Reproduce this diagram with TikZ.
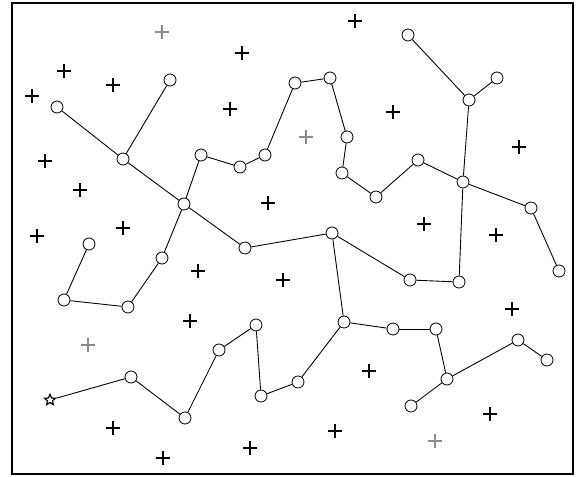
\documentclass[tikz,border=0pt]{standalone}
\usetikzlibrary{shapes.geometric}

\begin{document}
\begin{tikzpicture}[x=0.03cm,y=-0.03cm,
    site/.style={circle,draw,fill=white,line width=0.7pt,minimum size=0.36cm,inner sep=0pt},
    root/.style={star,star points=5,star point ratio=2.2,draw,line width=1pt,minimum size=0.34cm,inner sep=0pt},
    link/.style={line width=0.75pt},
    crs/.style={line width=1.1pt}]
  \useasboundingbox (0,0) rectangle (576,477);
  \draw[line width=1.6pt] (12,3) rectangle (573,474);
  % free points
  \foreach \x/\y in {64/71,32/96,113/85,242/53,355/21,230/109,393/112,519/147,45/161,80/190,
      123/228,37/236,268/203,424/224,496/235,198/271,283/280,190/321,369/371,512/309,
      490/414,335/431,250/448,163/458,113/428}
    \draw[crs] (\x-7,\y) -- (\x+7,\y) (\x,\y-7) -- (\x,\y+7);
  \foreach \x/\y in {162/32,306/137,88/345,435/441}
    \draw[crs,black!45] (\x-7,\y) -- (\x+7,\y) (\x,\y-7) -- (\x,\y+7);
  % tree sites
  \foreach \n/\x/\y in {n1/408/35,n2/497/78,n3/469/100,n4/57/107,n5/170/80,n6/295/83,n7/330/78,
      n8/347/137,n9/123/159,n10/201/155,n11/240/167,n12/265/155,n13/342/173,n14/376/197,
      n15/418/160,n16/463/182,n17/184/204,n18/531/208,n19/89/244,n20/162/258,n21/245/248,
      n22/332/233,n23/559/271,n24/64/300,n25/128/307,n26/410/280,n27/459/282,n28/344/322,
      n29/393/329,n30/436/329,n31/256/325,n32/219/350,n33/518/340,n34/547/360,n35/447/379,
      n36/131/377,n37/298/382,n38/261/396,n39/185/418,n40/411/406}
    \node[site] (\n) at (\x,\y) {};
  \node[root] (start) at (50,400) {};
  % tree edges
  \foreach \a/\b in {n4/n9,n5/n9,n9/n17,n17/n10,n10/n11,n11/n12,n12/n6,n6/n7,n7/n8,n8/n13,
      n13/n14,n14/n15,n15/n16,n16/n3,n3/n1,n3/n2,n16/n18,n18/n23,n16/n27,n27/n26,n26/n22,
      n22/n21,n21/n17,n17/n20,n20/n25,n25/n24,n24/n19,n22/n28,n28/n29,n29/n30,n30/n35,
      n35/n33,n33/n34,n35/n40,n28/n37,n37/n38,n38/n31,n31/n32,n32/n39,n39/n36,n36/start}
    \draw[link] (\a) -- (\b);
\end{tikzpicture}
\end{document}
